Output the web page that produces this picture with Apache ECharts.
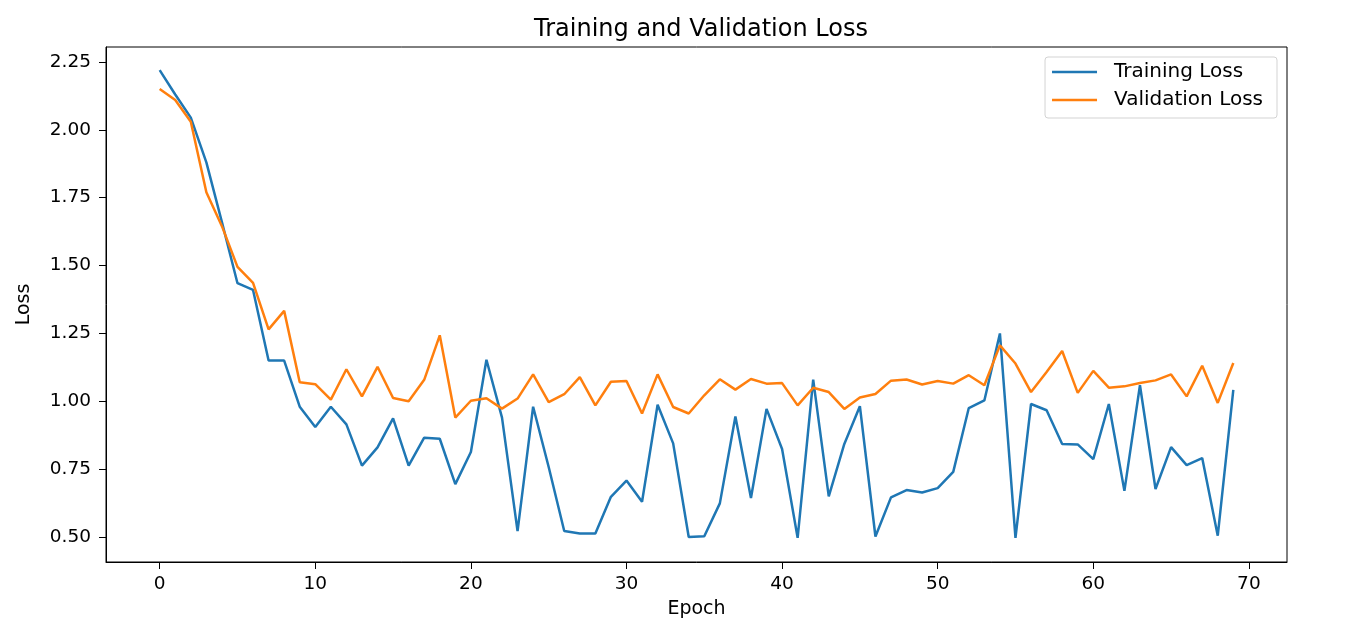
<!DOCTYPE html>
<html>
<head>
<meta charset="utf-8">
<script src="https://cdn.jsdelivr.net/npm/echarts@6/dist/echarts.min.js"></script>
<style>
html,body{margin:0;padding:0;background:#fff;}
#chart{width:1349px;height:632px;}
</style>
</head>
<body>
<div id="chart"></div>
<script>
var epochs = [];
for (var i = 0; i < 70; i++) epochs.push(i);

var trainingLoss = [
  2.22, 2.13, 2.045, 1.88, 1.66, 1.435, 1.41, 1.15, 1.15, 0.98,
  0.905, 0.98, 0.915, 0.763, 0.83, 0.937, 0.763, 0.866, 0.862, 0.695,
  0.813, 1.153, 0.94, 0.522, 0.98, 0.758, 0.522, 0.513, 0.513, 0.648,
  0.708, 0.63, 0.987, 0.845, 0.5, 0.503, 0.624, 0.944, 0.644, 0.972,
  0.824, 0.497, 1.08, 0.65, 0.843, 0.982, 0.502, 0.646, 0.673, 0.664,
  0.68, 0.74, 0.975, 1.003, 1.25, 0.497, 0.99, 0.967, 0.843, 0.841,
  0.787, 0.99, 0.67, 1.059, 0.677, 0.831, 0.765, 0.791, 0.505, 1.042
];

var validationLoss = [
  2.15, 2.11, 2.03, 1.77, 1.645, 1.495, 1.436, 1.265, 1.333, 1.07,
  1.063, 1.006, 1.118, 1.018, 1.127, 1.012, 1.0, 1.079, 1.243, 0.94,
  1.002, 1.011, 0.973, 1.01, 1.099, 0.997, 1.026, 1.089, 0.985, 1.072,
  1.075, 0.955, 1.099, 0.979, 0.955, 1.022, 1.081, 1.043, 1.082, 1.065,
  1.067, 0.985, 1.05, 1.034, 0.972, 1.014, 1.027, 1.076, 1.08, 1.062,
  1.075, 1.065, 1.096, 1.059, 1.206, 1.139, 1.034, 1.108, 1.185, 1.031,
  1.112, 1.05, 1.055, 1.067, 1.077, 1.099, 1.018, 1.131, 0.994, 1.141
];

var xTicks = [0, 10, 20, 30, 40, 50, 60, 70];
var yTicks = [0.5, 0.75, 1.0, 1.25, 1.5, 1.75, 2.0, 2.25];

function pairs(xs, ys) {
  return xs.map(function (x, i) { return [x, ys[i]]; });
}

var FONT = 'DejaVu Sans';
var chart = echarts.init(document.getElementById('chart'));
chart.setOption({
  animation: false,
  backgroundColor: '#fff',
  title: {
    text: 'Training and Validation Loss',
    left: 696,
    textAlign: 'center',
    top: 13,
    textStyle: { fontFamily: FONT, fontSize: 24, fontWeight: 'normal', color: '#000' }
  },
  legend: {
    orient: 'vertical',
    right: 72,
    top: 57,
    itemWidth: 45,
    itemHeight: 2.5,
    itemGap: 6,
    icon: 'rect',
    padding: [4, 14, 7, 7],
    borderColor: '#d3d3d3',
    borderWidth: 1,
    borderRadius: 3,
    backgroundColor: '#fff',
    textStyle: { fontFamily: FONT, fontSize: 20, color: '#000', lineHeight: 22, padding: [0, 0, 0, 12] },
    data: ['Training Loss', 'Validation Loss']
  },
  grid: {
    left: 106, right: 62, top: 47, bottom: 70,
    show: true, borderColor: '#000', borderWidth: 1, backgroundColor: '#fff'
  },
  xAxis: {
    type: 'value',
    min: -3.45,
    max: 72.45,
    name: 'Epoch',
    nameLocation: 'middle',
    nameGap: 38,
    nameTextStyle: { fontFamily: FONT, fontSize: 19, color: '#000' },
    axisLine: { show: true, onZero: false, lineStyle: { color: '#000', width: 1 } },
    axisTick: { show: true, length: 7, customValues: xTicks, lineStyle: { color: '#000', width: 1 } },
    axisLabel: { customValues: xTicks, fontFamily: FONT, fontSize: 18.5, color: '#000', margin: 13 },
    splitLine: { show: false }
  },
  yAxis: {
    type: 'value',
    min: 0.408,
    max: 2.305,
    name: 'Loss',
    nameLocation: 'middle',
    nameGap: 72,
    nameTextStyle: { fontFamily: FONT, fontSize: 19, color: '#000' },
    axisLine: { show: true, onZero: false, lineStyle: { color: '#000', width: 1 } },
    axisTick: { show: true, length: 7, customValues: yTicks, lineStyle: { color: '#000', width: 1 } },
    axisLabel: {
      customValues: yTicks, fontFamily: FONT, fontSize: 18.5, color: '#000', margin: 15,
      formatter: function (v) { return v.toFixed(2); }
    },
    splitLine: { show: false }
  },
  series: [
    {
      name: 'Training Loss',
      type: 'line',
      data: pairs(epochs, trainingLoss),
      showSymbol: false,
      symbol: 'none',
      lineStyle: { color: '#1f77b4', width: 2.5 },
      itemStyle: { color: '#1f77b4' }
    },
    {
      name: 'Validation Loss',
      type: 'line',
      data: pairs(epochs, validationLoss),
      showSymbol: false,
      symbol: 'none',
      lineStyle: { color: '#ff7f0e', width: 2.5 },
      itemStyle: { color: '#ff7f0e' }
    }
  ]
});
</script>
</body>
</html>
